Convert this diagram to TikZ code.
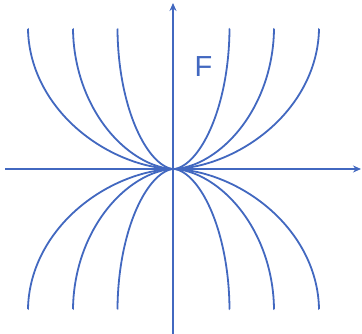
\documentclass[tikz,border=0pt]{standalone}
\usepackage{fontspec}
\setmainfont{Liberation Sans}
\usetikzlibrary{arrows.meta}
\definecolor{lineblue}{RGB}{66,104,192}
\begin{document}
\begin{tikzpicture}[x=1pt,y=-1pt,
  curve/.style={draw=lineblue,line width=1.8pt,line join=round},
  axis/.style={draw=lineblue,line width=1.6pt,-{Stealth[length=8pt,width=7pt]}},
  lbl/.style={text=lineblue,font=\fontsize{29}{30}\selectfont,inner sep=0pt}]
\useasboundingbox[fill=white] (0,0) rectangle (362,334);
\coordinate (O) at (173.5,169);
\coordinate (xs) at (5,169);
\coordinate (xe) at (361,169);
\coordinate (ys) at (173,334);
\coordinate (ye) at (173,3);
\foreach \d in {145.5,100.5,56}{
  \foreach \sx in {-1,1}{
    \foreach \sy/\h in {-1/142,1/142}{
      \draw[curve] plot[domain=0.2:90,samples=140,variable=\s,smooth]
        ({173.5+\sx*\d*sin(\s)},
         {169+\sy*\h*(1-sqrt(max(0,1-(sin(\s))^1.75)))});
    }
  }
}
\draw[axis] (xs) -- (xe);
\draw[axis] (ys) -- (ye);
\node[lbl] (F) at (203.5,67) {F};
\end{tikzpicture}
\end{document}
